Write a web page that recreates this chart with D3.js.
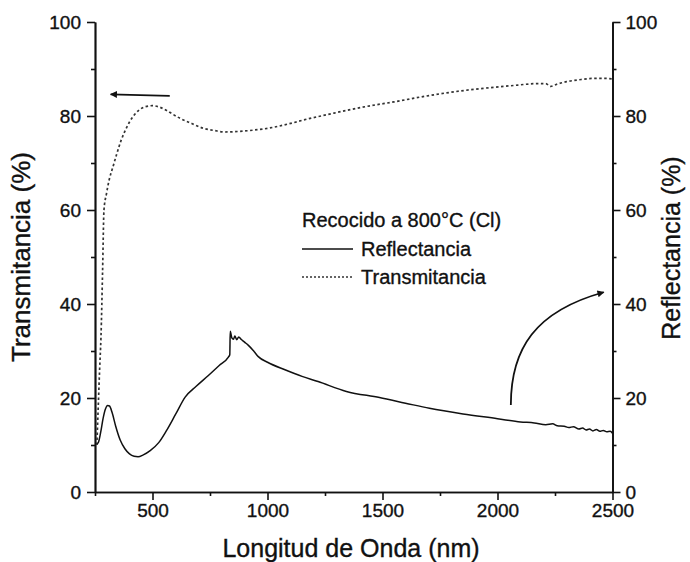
<!DOCTYPE html>
<html>
<head>
<meta charset="utf-8">
<script src="https://cdn.jsdelivr.net/npm/d3@7"></script>
<style>
  html, body { margin: 0; padding: 0; background: #fff; }
  svg { display: block; }
  text { font-family: "Liberation Sans", Arial, sans-serif; fill: #111; stroke: #111; stroke-width: 0.35px; }
</style>
</head>
<body>
<svg id="chart" width="690" height="562"></svg>
<script>
// ---- Data ----
const transWavelength = [258, 264, 270, 276, 283, 289, 300, 312, 327, 345, 365, 390, 414, 440, 470, 500, 530, 560, 584, 620, 671, 720, 770, 814, 870, 940, 1003, 1090, 1177, 1260, 1343, 1450, 1550, 1661, 1790, 1921, 2050, 2181, 2210, 2231, 2260, 2300, 2354, 2420, 2470, 2500];
const transValues     = [10, 18, 26, 33, 47, 60, 63.5, 66.5, 69, 72, 75, 77.8, 79.8, 81.2, 82, 82.2, 81.9, 81.2, 80.5, 79.5, 78.4, 77.4, 76.9, 76.6, 76.7, 77, 77.4, 78.3, 79.4, 80.3, 81.2, 82.2, 83, 84, 85, 85.8, 86.4, 86.9, 86.9, 86.3, 86.8, 87.3, 87.7, 88, 88, 87.9];

const reflWavelength = [258, 265, 275, 285, 295, 305, 313, 325, 340, 360, 380, 400, 420, 437, 460, 490, 527, 560, 600, 642, 690, 743, 790, 830, 836, 838, 845, 852, 858, 866, 875, 885, 900, 917, 940, 960, 1000, 1076, 1150, 1220, 1343, 1487, 1600, 1704, 1850, 2000, 2100, 2160, 2210, 2240, 2260, 2290, 2310, 2330, 2354, 2370, 2385, 2400, 2415, 2430, 2445, 2460, 2475, 2490, 2500];
const reflValues     = [10.2, 10.6, 12.8, 15.6, 17.6, 18.4, 18.3, 16.8, 14, 11, 9.2, 8.1, 7.6, 7.5, 7.9, 8.8, 10.5, 13, 16.5, 20.2, 22.5, 24.8, 26.9, 28.7, 29.2, 34.2, 32.8, 32.5, 33.2, 32.4, 33, 32.5, 31.9, 31.2, 30, 28.8, 27.6, 26, 24.6, 23.5, 21.4, 20.1, 18.9, 17.8, 16.6, 15.6, 14.9, 14.7, 14.3, 14.5, 14.1, 14.0, 13.7, 13.9, 13.4, 13.6, 13.2, 13.4, 13.0, 13.3, 12.9, 13.1, 12.8, 12.9, 12.5];

const xMajorTicks = [500, 1000, 1500, 2000, 2500];
const xMinorTicks = [250, 750, 1250, 1750, 2250];
const yMajorTicks = [0, 20, 40, 60, 80, 100];
const yMinorTicks = [10, 30, 50, 70, 90];

const xTitle = "Longitud de Onda (nm)";
const yLeftTitle = "Transmitancia (%)";
const yRightTitle = "Reflectancia (%)";
const legendTitle = "Recocido a 800°C (Cl)";
const seriesNames = ["Reflectancia", "Transmitancia"];

// annotation arrows in data units
const leftArrow = { from: [575, 84.3], to: [318, 84.6] };
const curvedArrow = { start: [2058, 18.5], c1: [2058, 30.5], c2: [2165, 38.5], end: [2462, 42.5] };

// ---- Layout ----
const svg = d3.select("#chart");
const x = d3.scaleLinear().domain([250, 2500]).range([95, 612.5]);
const y = d3.scaleLinear().domain([0, 100]).range([492, 22]);

const axisColor = "#111";

// Bottom axis (major + minor ticks, outward)
const gx = svg.append("g").attr("transform", `translate(0,${y(0)})`);
gx.call(d3.axisBottom(x).tickValues(xMajorTicks).tickSize(8).tickSizeOuter(0).tickPadding(4).tickFormat(d3.format("d")));
gx.append("g").call(d3.axisBottom(x).tickValues(xMinorTicks).tickSize(4).tickSizeOuter(0).tickFormat(""));

// Left axis
const gyl = svg.append("g").attr("transform", `translate(${x(250)},0)`);
gyl.call(d3.axisLeft(y).tickValues(yMajorTicks).tickSize(8).tickSizeOuter(0).tickPadding(6).tickFormat(d3.format("d")));
gyl.append("g").call(d3.axisLeft(y).tickValues(yMinorTicks).tickSize(4).tickSizeOuter(0).tickFormat(""));

// Right axis
const gyr = svg.append("g").attr("transform", `translate(${x(2500)},0)`);
gyr.call(d3.axisRight(y).tickValues(yMajorTicks).tickSize(8).tickSizeOuter(0).tickPadding(5).tickFormat(d3.format("d")));
gyr.append("g").call(d3.axisRight(y).tickValues(yMinorTicks).tickSize(4).tickSizeOuter(0).tickFormat(""));

svg.selectAll(".domain").attr("stroke", axisColor).attr("stroke-width", 1.7);
svg.selectAll(".tick line").attr("stroke", axisColor).attr("stroke-width", 1.6);
svg.selectAll(".tick text")
  .attr("font-family", '"Liberation Sans", Arial, sans-serif')
  .attr("font-size", 19).attr("fill", "#111");

// Axis titles
svg.append("text").attr("x", 351).attr("y", 557).attr("text-anchor", "middle")
  .attr("font-size", 25).text(xTitle);
svg.append("text").attr("transform", "translate(30,257) rotate(-90)").attr("text-anchor", "middle")
  .attr("font-size", 26).text(yLeftTitle);
svg.append("text").attr("transform", "translate(680,248) rotate(-90)").attr("text-anchor", "middle")
  .attr("font-size", 25).text(yRightTitle);

// Series
const line = d3.line().x(d => x(d[0])).y(d => y(d[1])).curve(d3.curveMonotoneX);
const transData = transWavelength.map((w, i) => [w, transValues[i]]);
const reflData = reflWavelength.map((w, i) => [w, reflValues[i]]);

svg.append("path").datum(transData).attr("d", line)
  .attr("fill", "none").attr("stroke", "#333").attr("stroke-width", 1.7)
  .attr("stroke-dasharray", "2.5,2.5");
svg.append("path").datum(reflData).attr("d", line)
  .attr("fill", "none").attr("stroke", "#111").attr("stroke-width", 1.5);

// Legend
svg.append("text").attr("x", 302).attr("y", 227).attr("font-size", 20).text(legendTitle);
const legendY = [249, 277];
svg.append("line").attr("x1", 302).attr("x2", 353).attr("y1", legendY[0]).attr("y2", legendY[0])
  .attr("stroke", "#111").attr("stroke-width", 1.5);
svg.append("line").attr("x1", 302).attr("x2", 353).attr("y1", legendY[1]).attr("y2", legendY[1])
  .attr("stroke", "#333").attr("stroke-width", 1.5).attr("stroke-dasharray", "2,2");
svg.append("text").attr("x", 361).attr("y", legendY[0] + 7).attr("font-size", 20).text(seriesNames[0]);
svg.append("text").attr("x", 361).attr("y", legendY[1] + 7).attr("font-size", 20).text(seriesNames[1]);

// Arrows
const defs = svg.append("defs");
defs.append("marker").attr("id", "ah").attr("viewBox", "0 0 10 10").attr("refX", 9).attr("refY", 5)
  .attr("markerWidth", 10).attr("markerHeight", 7).attr("markerUnits", "userSpaceOnUse").attr("orient", "auto")
  .append("path").attr("d", "M0,0 L10,5 L0,10 z").attr("fill", "#111");

svg.append("line")
  .attr("x1", x(leftArrow.from[0])).attr("y1", y(leftArrow.from[1]))
  .attr("x2", x(leftArrow.to[0])).attr("y2", y(leftArrow.to[1]))
  .attr("stroke", "#111").attr("stroke-width", 1.8).attr("marker-end", "url(#ah)");

const p = d3.path();
p.moveTo(x(curvedArrow.start[0]), y(curvedArrow.start[1]));
p.bezierCurveTo(x(curvedArrow.c1[0]), y(curvedArrow.c1[1]), x(curvedArrow.c2[0]), y(curvedArrow.c2[1]),
  x(curvedArrow.end[0]), y(curvedArrow.end[1]));
svg.append("path").attr("d", p.toString()).attr("fill", "none")
  .attr("stroke", "#111").attr("stroke-width", 1.8).attr("marker-end", "url(#ah)");
</script>
</body>
</html>
